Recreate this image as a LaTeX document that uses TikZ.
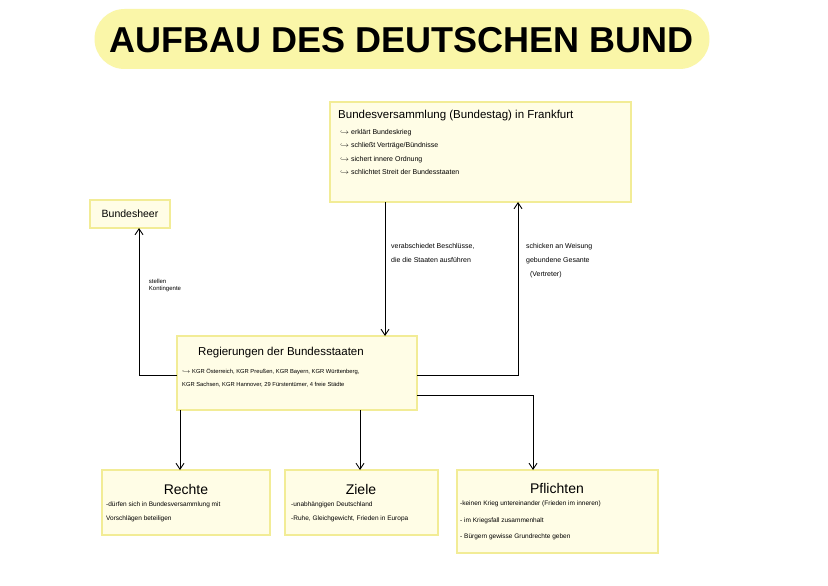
\documentclass[tikz,border=0pt]{standalone}
\usepackage{fontspec}
\setmainfont{Liberation Sans}
\usetikzlibrary{arrows.meta}
\definecolor{boxfill}{HTML}{FFFDE6}
\definecolor{boxline}{HTML}{F2EC96}
\definecolor{band}{HTML}{FAF6A8}
\begin{document}
\begin{tikzpicture}[x=1pt,y=-1pt,
  box/.style={draw=boxline,line width=1.5pt,fill=boxfill,inner sep=0pt},
  arr/.style={-{Straight Barb[length=6pt,width=8pt]},line width=0.9pt},
  small/.style={font=\fontsize{7}{10}\selectfont,align=left,anchor=north west,inner sep=0pt}]
\useasboundingbox (0,0) rectangle (828,586);
\fill[white] (0,0) rectangle (828,586);
\node[fill=band,rounded corners=30pt,minimum width=615pt,minimum height=60pt] (title) at (402,39) {};
\node[font=\bfseries\fontsize{36}{40}\selectfont] (tt) at (402,40) {AUFBAU DES DEUTSCHEN BUND};
% boxes
\draw[box] (330,102) rectangle (631,202);
\node[small,font=\fontsize{11.5}{13}\selectfont] (bvt) at (338,110) {Bundesversammlung (Bundestag) in Frankfurt};
\node[small,font=\fontsize{7}{13.5}\selectfont] (bvl) at (340,129) {$\hookrightarrow$ erklärt Bundeskrieg\\$\hookrightarrow$ schließt Verträge/Bündnisse\\$\hookrightarrow$ sichert innere Ordnung\\$\hookrightarrow$ schlichtet Streit der Bundesstaaten};
\node[box,minimum width=80pt,minimum height=28pt,font=\fontsize{10.5}{12}\selectfont] (heer) at (130,214) {Bundesheer};
\draw[box] (177,336) rectangle (417,410);
\node[small,font=\fontsize{11.5}{13}\selectfont] (rt) at (198,347) {Regierungen der Bundesstaaten};
\node[small,font=\fontsize{5.8}{13}\selectfont] (rl) at (182,368) {$\hookrightarrow$ KGR Österreich, KGR Preußen, KGR Bayern, KGR Württenberg,\\KGR Sachsen, KGR Hannover, 29 Fürstentümer, 4 freie Städte};
\draw[box] (102,470) rectangle (270,535);
\node[font=\fontsize{14}{15}\selectfont] (re) at (186,489) {Rechte};
\node[small,font=\fontsize{6.5}{14}\selectfont] (rel) at (106,502) {-dürfen sich in Bundesversammlung mit\\ Vorschlägen beteiligen};
\draw[box] (285,470) rectangle (438,535);
\node[font=\fontsize{14}{15}\selectfont] (zi) at (361,489) {Ziele};
\node[small,font=\fontsize{6.5}{14}\selectfont] (zil) at (291,502) {-unabhängigen Deutschland\\-Ruhe, Gleichgewicht, Frieden in Europa};
\draw[box] (457,470) rectangle (658,553);
\node[font=\fontsize{14}{15}\selectfont] (pf) at (557,488) {Pflichten};
\node[small,font=\fontsize{6.5}{16.5}\selectfont] (pfl) at (460,501) {-keinen Krieg untereinander (Frieden im inneren)\\- im Kriegsfall zusammenhalt\\- Bürgern gewisse Grundrechte geben};
% connectors
\coordinate (bvb1) at (385,202); \coordinate (rg1) at (385,336);
\draw[arr] (bvb1) -- (rg1);
\node[small,font=\fontsize{7}{14}\selectfont] (l1) at (391,243) {verabschiedet Beschlüsse,\\die die Staaten ausführen};
\coordinate (rgr) at (417,375); \coordinate (bvb2) at (518,202);
\draw[arr] (rgr) -| (bvb2);
\node[small,font=\fontsize{7}{14}\selectfont] (l2) at (526,243) {schicken an Weisung\\gebundene Gesante\\ \ \ (Vertreter)};
\coordinate (rgl) at (177,375); \coordinate (hb) at (139,228);
\draw[arr] (rgl) -| (hb);
\node[font=\fontsize{6}{7}\selectfont,align=left] (l3) at (165,285) {stellen\\Kontingente};
\draw[arr] (180,410) -- (180,470);
\draw[arr] (360,410) -- (360,470);
\coordinate (rgr2) at (417,395);
\draw[arr] (rgr2) -| (533,470);
\end{tikzpicture}
\end{document}
